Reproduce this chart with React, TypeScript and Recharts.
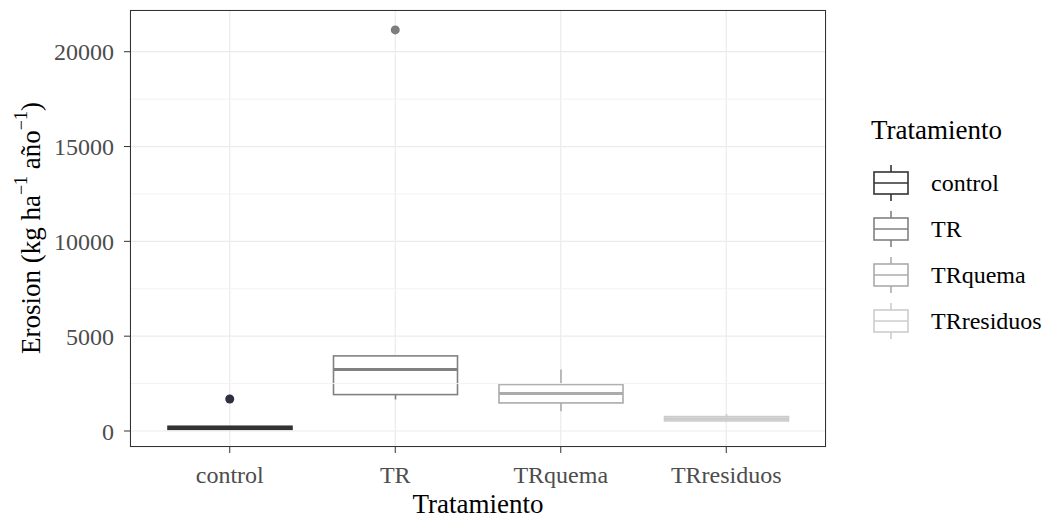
import React from "react";
import {
  ComposedChart,
  Bar,
  Line,
  XAxis,
  YAxis,
  CartesianGrid,
  ReferenceLine,
} from "recharts";

// boxplot summary per treatment
const categories = ["control", "TR", "TRquema", "TRresiduos"];
const whiskerLow = [90, 1660, 1040, 500];
const q1 = [90, 1920, 1480, 530];
const median = [170, 3240, 1975, 640];
const q3 = [250, 3960, 2450, 760];
const whiskerHigh = [250, 3960, 3240, 900];
const outliers: (number | null)[] = [1690, 21150, null, null];
const colors = ["#333333", "#818181", "#ababab", "#cccccc"];
const outlierColors = ["#2f3140", "#7d7d80", "#ababab", "#cccccc"];
const yTicks = [0, 5000, 10000, 15000, 20000];
const yMinor = [2500, 7500, 12500, 17500];

const FONT = "'Liberation Serif', 'Times New Roman', serif";

const data = categories.map((name, i) => ({
  name,
  box: [q1[i], q3[i]],
  q1: q1[i],
  q3: q3[i],
  median: median[i],
  lo: whiskerLow[i],
  hi: whiskerHigh[i],
  outlier: outliers[i],
  color: colors[i],
  outlierColor: outlierColors[i],
}));

// eslint-disable-next-line @typescript-eslint/no-explicit-any
function BoxShape(props: any) {
  const { x, y, width, height, payload } = props;
  const top = Math.min(y, y + height);
  const h = Math.abs(height);
  const span = payload.q3 - payload.q1;
  const k = span > 0 ? h / span : 0;
  const toY = (v: number) => top + (payload.q3 - v) * k;
  const cx = x + width / 2;
  const c = payload.color;
  return (
    <g>
      <line x1={cx} x2={cx} y1={toY(payload.hi)} y2={top} stroke={c} strokeWidth={1.6} />
      <line x1={cx} x2={cx} y1={top + h} y2={toY(payload.lo)} stroke={c} strokeWidth={1.6} />
      <rect x={x} y={top} width={width} height={h} fill="#ffffff" stroke={c} strokeWidth={1.6} />
      <line x1={x} x2={x + width} y1={toY(payload.median)} y2={toY(payload.median)} stroke={c} strokeWidth={3} />
    </g>
  );
}

// eslint-disable-next-line @typescript-eslint/no-explicit-any
function OutlierDot(props: any) {
  const { cx, cy, payload, index } = props;
  if (payload.outlier == null || cy == null) return <g key={index} />;
  return <circle key={index} cx={cx} cy={cy} r={4.5} fill={payload.outlierColor} />;
}

function YTitle() {
  const cx = 31;
  const cy = 228;
  return (
    <text
      x={cx}
      y={cy}
      transform={`rotate(-90, ${cx}, ${cy})`}
      textAnchor="middle"
      dominantBaseline="central"
      fontFamily={FONT}
      fontSize={27}
      fill="#000"
    >
      Erosion (kg ha
      <tspan dy={-10} fontSize={18}>−1</tspan>
      <tspan dy={10}> año</tspan>
      <tspan dy={-10} fontSize={18}>−1</tspan>
      <tspan dy={10}>)</tspan>
    </text>
  );
}

function LegendKey({ color }: { color: string }) {
  return (
    <svg width={40} height={40} style={{ display: "block" }}>
      <line x1={20} x2={20} y1={2} y2={38} stroke={color} strokeWidth={1.6} />
      <rect x={3} y={9} width={34} height={22} fill="#fff" stroke={color} strokeWidth={1.6} />
      <line x1={3} x2={37} y1={20} y2={20} stroke={color} strokeWidth={1.6} />
    </svg>
  );
}

function BoxLegend() {
  return (
    <div style={{ position: "absolute", left: 871, top: 117, fontFamily: FONT, lineHeight: 1 }}>
      <div style={{ fontSize: 27, color: "#000", marginBottom: 16, marginLeft: 0 }}>Tratamiento</div>
      {categories.map((c, i) => (
        <div key={c} style={{ display: "flex", alignItems: "center", height: 46 }}>
          <LegendKey color={colors[i]} />
          <span style={{ fontSize: 24, color: "#000", marginLeft: 20 }}>{c}</span>
        </div>
      ))}
    </div>
  );
}

export default function App() {
  return (
    <div style={{ position: "absolute", left: 0, top: 0, width: 1043, height: 521, background: "#fff" }}>
      <ComposedChart
        width={1043}
        height={521}
        data={data}
        margin={{ top: 10, right: 217, bottom: 0, left: 0 }}
        barSize={124}
      >
        <CartesianGrid stroke="#ebebeb" strokeWidth={1.2} />
        {yMinor.map((v) => (
          <ReferenceLine key={v} y={v} stroke="#f2f2f2" strokeWidth={1} />
        ))}
        <XAxis
          dataKey="name"
          padding={{ left: 17, right: 17 }}
          axisLine={false}
          tickLine={{ stroke: "#333" }}
          tickSize={6}
          tickMargin={13}
          height={74}
          tick={{ fill: "#4d4d4d", fontSize: 24, fontFamily: FONT }}
          label={{
            value: "Tratamiento",
            position: "insideBottom",
            offset: 8,
            fill: "#000",
            fontSize: 27,
            fontFamily: FONT,
          }}
        />
        <YAxis
          type="number"
          domain={[-844, 22200]}
          allowDataOverflow
          ticks={yTicks}
          width={130}
          axisLine={false}
          tickLine={{ stroke: "#333" }}
          tickSize={6}
          tickMargin={10}
          tick={{ fill: "#4d4d4d", fontSize: 24, fontFamily: FONT }}
          label={{ content: () => <YTitle /> }}
        />
        <Bar dataKey="box" shape={<BoxShape />} isAnimationActive={false} legendType="none" />
        <Line
          dataKey="outlier"
          stroke="none"
          dot={OutlierDot}
          activeDot={false}
          isAnimationActive={false}
          legendType="none"
        />
      </ComposedChart>
      <div
        style={{
          position: "absolute",
          left: 130,
          top: 10,
          width: 696,
          height: 437,
          border: "1px solid #333",
          boxSizing: "border-box",
          pointerEvents: "none",
        }}
      />
      <BoxLegend />
    </div>
  );
}
